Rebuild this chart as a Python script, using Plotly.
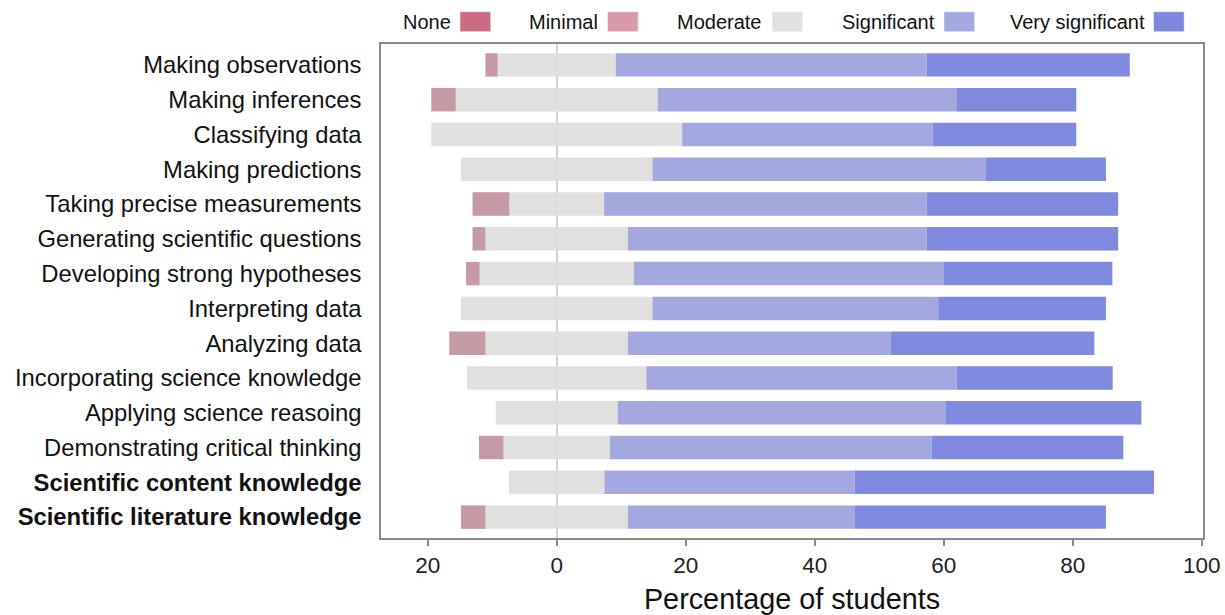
import plotly.graph_objects as go

# ---------------- data (percent of students) ----------------
categories = [
    "Making observations",
    "Making inferences",
    "Classifying data",
    "Making predictions",
    "Taking precise measurements",
    "Generating scientific questions",
    "Developing strong hypotheses",
    "Interpreting data",
    "Analyzing data",
    "Incorporating science knowledge",
    "Applying science reasoing",
    "Demonstrating critical thinking",
    "Scientific content knowledge",
    "Scientific literature knowledge",
]
bold_categories = ["Scientific content knowledge", "Scientific literature knowledge"]

none_pct        = [0, 0, 0, 0, 0, 0, 0, 0, 0, 0, 0, 0, 0, 0]
minimal_pct     = [1.9, 3.8, 0, 0, 5.7, 2.0, 2.1, 0, 5.6, 0, 0, 3.8, 0, 3.8]
moderate_pct    = [18.3, 31.3, 38.9, 29.7, 14.7, 22.1, 23.9, 29.7, 22.1, 27.8, 18.9, 16.5, 14.8, 22.1]
significant_pct = [48.2, 46.3, 38.8, 51.7, 50.0, 46.3, 48.1, 44.3, 40.7, 48.1, 50.9, 49.9, 38.8, 35.1]
very_pct        = [31.5, 18.6, 22.3, 18.6, 29.7, 29.7, 26.1, 26.0, 31.6, 24.2, 30.3, 29.7, 46.4, 39.0]

x_tickvals = [-20, 0, 20, 40, 60, 80, 100]
x_ticktext = ["20", "0", "20", "40", "60", "80", "100"]

legend_names = ["None", "Minimal", "Moderate", "Significant", "Very significant"]

# ---------------- styles ----------------
FONT = "Liberation Sans, Arial, Helvetica, sans-serif"
bar_colors = {
    "None": "#c96b82",
    "Minimal": "#c59aa4",
    "Moderate": "#e0e0e0",
    "Significant": "#a3a8df",
    "Very significant": "#7f89dd",
}
legend_colors = {
    "None": "#c96b82",
    "Minimal": "#d89aa7",
    "Moderate": "#e1e1e1",
    "Significant": "#a3a9e1",
    "Very significant": "#7f88dd",
}

W, H = 1225, 615
ML, MR, MT, MB = 381, 22, 44, 77

fig = go.Figure()

def add_bar(vals, name, sign):
    fig.add_trace(go.Bar(
        y=categories, x=[sign * v for v in vals], orientation="h",
        name=name, marker=dict(color=bar_colors[name], line=dict(width=0)),
        showlegend=False, hoverinfo="skip",
    ))

half_mod = [m / 2 for m in moderate_pct]
# negative side (stacks outward from zero)
add_bar(half_mod, "Moderate", -1)
add_bar(minimal_pct, "Minimal", -1)
add_bar(none_pct, "None", -1)
# positive side
add_bar(half_mod, "Moderate", 1)
add_bar(significant_pct, "Significant", 1)
add_bar(very_pct, "Very significant", 1)

# ---------------- manual legend (text left of swatch) ----------------
pw = W - ML - MR
ph = H - MT - MB
def px_x(px):
    return (px - ML) / pw
def px_y(py):
    return (H - MB - py) / ph

legend_text_right = [452.5, 600, 764, 936.5, 1147]
legend_swatch_left = [460, 607.5, 772, 944, 1153.5]
sw_w, sw_top, sw_bot = 30.7, 11.7, 31.7
for name, tr, sl in zip(legend_names, legend_text_right, legend_swatch_left):
    fig.add_shape(type="rect", xref="paper", yref="paper",
                  x0=px_x(sl), x1=px_x(sl + sw_w), y0=px_y(sw_bot), y1=px_y(sw_top),
                  fillcolor=legend_colors[name], line=dict(width=0.8, color="rgba(255,255,255,0.6)"))
    fig.add_annotation(xref="paper", yref="paper", x=px_x(tr), y=px_y((sw_top + sw_bot) / 2 + 0.5),
                       text=name, showarrow=False, xanchor="right", yanchor="middle",
                       font=dict(family=FONT, size=20, color="#111111"))

ticktext_y = [f"<b>{c}</b>" if c in bold_categories else c for c in categories]

fig.update_layout(
    width=W, height=H,
    margin=dict(l=ML, r=MR, t=MT, b=MB, autoexpand=False),
    barmode="relative", bargap=0.325,
    plot_bgcolor="white", paper_bgcolor="white",
    font=dict(family=FONT, color="#111111"),
    showlegend=False,
    xaxis=dict(
        range=[-27.24, 100.2], tickvals=x_tickvals, ticktext=x_ticktext,
        showgrid=False, zeroline=True, zerolinecolor="#d2d2d2", zerolinewidth=2,
        showline=True, linecolor="#8a8a8a", linewidth=1.5, mirror=True,
        ticks="outside", ticklen=6, tickwidth=1.5, tickcolor="#8a8a8a",
        tickfont=dict(family=FONT, size=22.5, color="#222222"),
        title=dict(text="Percentage of students", standoff=14,
                   font=dict(family=FONT, size=28.8, color="#111111")),
        automargin=False,
    ),
    yaxis=dict(
        type="category", categoryorder="array", categoryarray=categories,
        range=[13.6, -0.6], tickvals=categories, ticktext=ticktext_y,
        showgrid=False, zeroline=False,
        showline=True, linecolor="#8a8a8a", linewidth=1.5, mirror=True,
        ticks="", ticklabelstandoff=13,
        tickfont=dict(family=FONT, size=23.8, color="#111111"),
        automargin=False,
    ),
)

fig.write_html("out.html",
               config={"displayModeBar": False},
               post_script="document.body.style.margin='0';document.body.style.padding='0';")
